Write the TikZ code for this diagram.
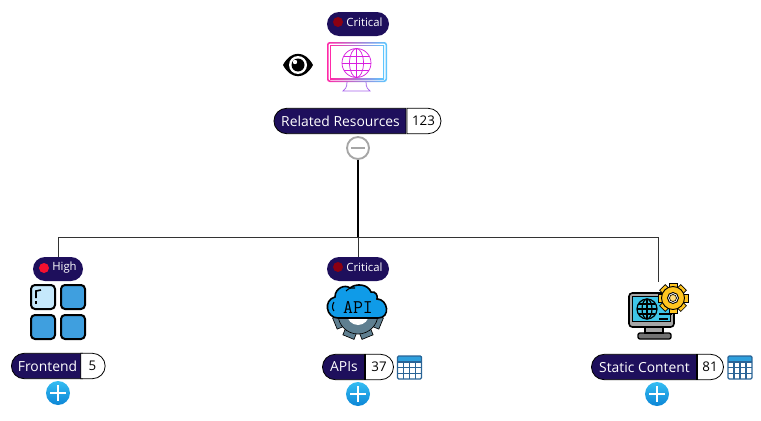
\documentclass[tikz,border=0pt]{standalone}
\usepackage{fontspec}
\setmainfont{Open Sans}
\usetikzlibrary{calc}
\usetikzlibrary{shapes.misc}
\definecolor{pillnavy}{HTML}{1E0F5C}
\definecolor{critred}{HTML}{8B0012}
\definecolor{highred}{HTML}{F5102F}
\definecolor{tileblue}{HTML}{3F9FDF}
\definecolor{tilelight}{HTML}{C5E8FB}
\definecolor{cloudblue}{HTML}{0F9BE8}
\definecolor{gearslate}{HTML}{5F7F90}
\definecolor{screencyan}{HTML}{3FC5E8}
\definecolor{gearyellow}{HTML}{FFC520}
\definecolor{tableblue}{HTML}{2A6496}
\definecolor{headblue}{HTML}{2FA0DD}
\definecolor{linkgray}{HTML}{333333}
\definecolor{glowpink}{HTML}{FF2AA8}
\definecolor{glowviolet}{HTML}{D81FE0}
\definecolor{glowcyan}{HTML}{5CC8FF}
\definecolor{plustop}{HTML}{35BDF2}
\definecolor{plusbottom}{HTML}{0C86D6}
\tikzset{
  sevpill/.style={rounded rectangle, fill=pillnavy, minimum width=#1*.75pt, minimum height=18pt, inner sep=0},
  sevdot/.style={circle, fill=#1, minimum size=7.5pt, inner sep=0},
  sevtxt/.style={text=white, inner sep=0, font=\fontsize{8.5}{9}\selectfont},
  namepill/.style={rounded rectangle, rounded rectangle right arc=none, draw=black, line width=.6pt, fill=pillnavy, text=white, minimum width=#1*.75pt, minimum height=19pt, inner sep=0, font=\fontsize{10.4}{11}\selectfont},
  countpill/.style={rounded rectangle, rounded rectangle left arc=none, draw=black, line width=.6pt, fill=white, text=black, minimum width=#1*.75pt, minimum height=19pt, inner sep=0, font=\fontsize{10}{11}\selectfont},
  minusbtn/.style={circle, draw=black!35, line width=1.4pt, fill=white, minimum size=16.5pt, inner sep=0},
  plusbtn/.style={circle, top color=plustop, bottom color=plusbottom, minimum size=18pt, inner sep=0},
  link/.style={linkgray, line width=.7pt},
  tile/.style={draw=black, line width=1.5pt, rounded corners=3pt, fill=#1},
  glow/.style={left color=glowpink, middle color=glowviolet, right color=glowcyan}
}
\newcommand{\plusmark}[1]{
  \draw[white, line width=1.6pt] ($(#1)+(-8,0)$) --++(16,0);
  \draw[white, line width=1.6pt] ($(#1)+(0,-8)$) --++(0,16);
}
\newcommand{\tableicon}[2]{
  \fill[white] (#1,#2) rectangle ++(24,23);
  \fill[headblue] (#1,#2) rectangle ++(24,6);
  \draw[tableblue, line width=.9pt, rounded corners=1pt] (#1,#2) rectangle ++(24,23);
  \foreach \x in {6,12,18} \draw[tableblue, line width=.9pt] ($(#1,#2)+(\x,6)$) --++(0,17);
  \foreach \y in {6,11.7,17.4} \draw[tableblue, line width=.9pt] ($(#1,#2)+(0,\y)$) --++(24,0);
}
\begin{document}
\begin{tikzpicture}[x=.75pt, y=-.75pt]
\useasboundingbox (0,0) rectangle (761,421);
% connectors
\node[minusbtn] (rootbtn) at (358,148) {};
\draw[black!35, line width=1.2pt] (351,148) -- (365,148);
\coordinate (bus) at (358,237);
\coordinate (busleft) at (58,237);
\coordinate (busright) at (658,237);
\node[sevpill=50] (highsev) at (58,269) {};
\node[sevpill=62] (apisev) at (358,269) {};
\coordinate (statictop) at (658,282);
\draw[black, line width=1.2pt] (rootbtn) -- (bus);
\draw[link] (busleft) -- (busright);
\draw[link] (busleft) -- (highsev);
\draw[link] (bus) -- (apisev);
\draw[link] (busright) -- (statictop);

% top monitor
\node[sevpill=62] (rootsev) at (358,24) {};
\node[sevdot=critred] (rootdot) at (338,22) {};
\node[sevtxt] (rootsevtxt) at (364.5,22) {Critical};
\shade[glow, rounded corners=2pt] (327,42) rectangle (387,82);
\fill[white, rounded corners=1.5pt] (328.5,43.5) rectangle (385.5,80.5);
\shade[glow] (330,45) rectangle (384,79);
\fill[white] (331,46) rectangle (383,78);
\begin{scope}[glowviolet, line width=.55pt]
\draw (356.5,63) circle (14.5);
\draw (356.5,63) ellipse (7 and 14.5);
\draw (356.5,48.5) -- (356.5,77.5);
\draw (342,63) -- (371,63);
\draw (344,56) -- (369,56);
\draw (344,70) -- (369,70);
\end{scope}
\draw[glowviolet!60!glowcyan, line width=.55pt] (347,82) .. controls (347,88) and (345,89) .. (343,91) -- (370,91) .. controls (368,89) and (366,88) .. (366,82);
% eye
\fill[black] (283,65) .. controls (291,50) and (305,50) .. (313,65) .. controls (305,80) and (291,80) .. (283,65);
\fill[white] (298,65) circle (9);
\fill[black] (298,65) circle (6.5);
\fill[white] (295,62) circle (2.2);

\node[namepill=132] (rootname) at (340.5,121) {Related Resources};
\node[countpill=34] (rootcount) at (423.5,121) {123};

% frontend
\node[sevdot=highred] (highdot) at (44,268) {};
\node[sevtxt] (hightxt) at (64.5,268) {High};
\draw[tile=tilelight] (31,285) rectangle (55,309);
\draw[tile=tileblue] (61,285) rectangle (85,309);
\draw[tile=tileblue] (31,315) rectangle (55,339);
\draw[tile=tileblue] (61,315) rectangle (85,339);
\draw[black, line width=1.2pt] (36,298) -- (36,291) -- (41,290);
\draw[black, line width=1.2pt] (36,301) -- (36,304);
\node[namepill=71] (frontname) at (47.5,366) {Frontend};
\node[countpill=19] (frontcount) at (92.5,366) {5};
\node[plusbtn] (frontplus) at (58,393) {};
\plusmark{frontplus}

% apis
\node[sevdot=critred] (apidot) at (338,267) {};
\node[sevtxt] (apisevtxt) at (364.5,267) {Critical};
\fill[white] (327,285) rectangle (389,318);
\foreach \a in {0,45,...,315} {
  \fill[gearslate, draw=black, line width=.5pt, rotate around={\a+22.5:(358,314)}] (352,333) rectangle (364,339);
}
\fill[gearslate, draw=black, line width=.5pt] (358,314) circle (20);
\fill[white] (358,314) circle (11);
\draw[black, line width=1.2pt, fill=cloudblue] (338,318) .. controls (326,318) and (323,300) .. (335,297) .. controls (335,288) and (345,284) .. (350,288) .. controls (356,283) and (368,284) .. (371,292) .. controls (376,291) and (378,296) .. (377,299) .. controls (388,299) and (391,318) .. (378,318) -- cycle;
\draw[black, line width=.8pt] (334,302) .. controls (332,305) and (332,309) .. (334,311);
\draw[black, line width=.8pt] (346,291) .. controls (349,288) and (352,287) .. (355,288);
\node[font=\ttfamily\fontsize{14.5}{15}\selectfont, text=black, inner sep=0] (apitxt) at (358,307) {API};
\node[namepill=42] (apiname) at (344,367) {APIs};
\node[countpill=28] (apicount) at (379,367) {37};
\tableicon{397.5}{356}
\node[plusbtn] (apiplus) at (358,394) {};
\plusmark{apiplus}

% static content
\fill[black!55, draw=black, line width=1pt, rounded corners=1.5pt] (638,333) rectangle (671,339);
\fill[black!35, draw=black, line width=1pt] (645,327) rectangle (663,333);
\fill[black!35, draw=black, line width=1.2pt, rounded corners=2.5pt] (629,293) rectangle (674,327);
\fill[screencyan, draw=black, line width=.6pt] (632.5,296.5) rectangle (670.5,321);
\begin{scope}[black, line width=.9pt]
\fill[screencyan] (647,309) circle (10);
\draw (647,309) circle (10);
\draw (637,309) -- (657,309);
\draw (647,299) -- (647,319);
\draw (647,309) ellipse (5 and 10);
\draw (639,304) -- (655,304);
\draw (639,314) -- (655,314);
\draw (659,314) -- (672,314);
\draw (659,319) -- (668,319);
\end{scope}
\foreach \a in {0,45,...,315} {
  \fill[gearyellow, draw=black, line width=.5pt, rotate around={\a:(673,298)}] (669,283) rectangle (677,288);
}
\fill[gearyellow, draw=black, line width=.7pt] (673,298) circle (11.5);
\fill[white, draw=black, line width=.7pt] (673,298) circle (5.5);
\fill[gearyellow!60!white, draw=black, line width=.5pt] (673,298) circle (3.5);
\node[namepill=105] (staticname) at (644.5,367) {Static Content};
\node[countpill=26] (staticcount) at (710,367) {81};
\tableicon{728}{356}
\node[plusbtn] (staticplus) at (657,394) {};
\plusmark{staticplus}
\end{tikzpicture}
\end{document}
